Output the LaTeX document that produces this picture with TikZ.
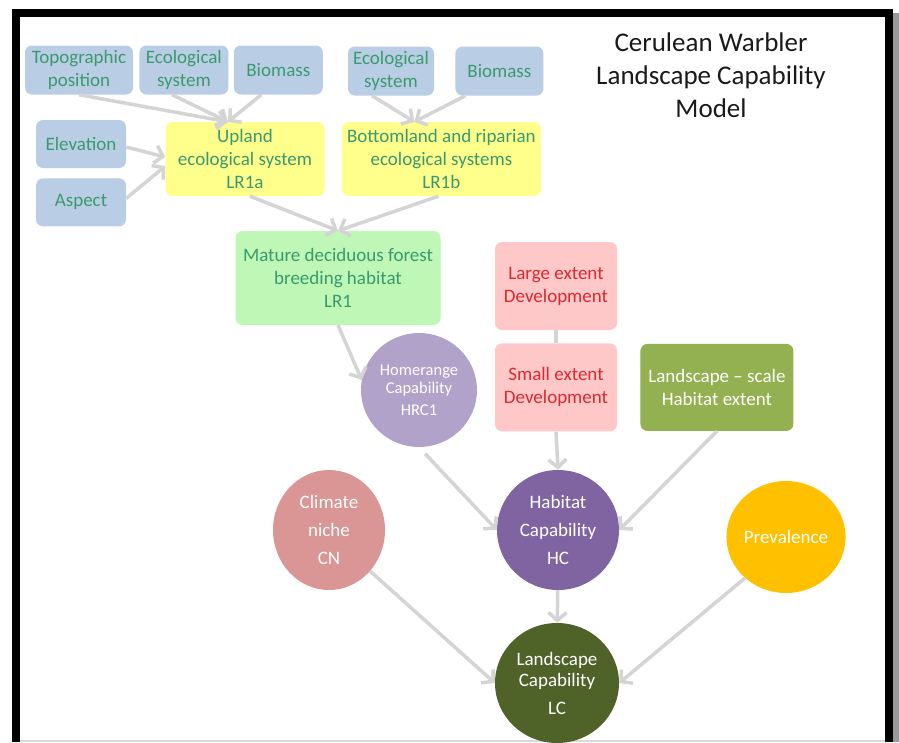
\documentclass[tikz,border=0pt]{standalone}
\usepackage{fontspec}
\setmainfont{Carlito}
\usepackage{tikz}
\usetikzlibrary{arrows.meta}
\usetikzlibrary{positioning}
\usetikzlibrary{shapes.geometric}

\definecolor{inputblue}{HTML}{B9CDE5}
\definecolor{ecoyellow}{HTML}{FFFF8C}
\definecolor{forestgreen}{HTML}{BEF7B6}
\definecolor{labelgreen}{HTML}{3A9A6E}
\definecolor{devpink}{HTML}{FFC8C8}
\definecolor{devred}{HTML}{D92A30}
\definecolor{scaleolive}{HTML}{93B150}
\definecolor{homelilac}{HTML}{B0A2C8}
\definecolor{climrose}{HTML}{D99694}
\definecolor{habpurple}{HTML}{8064A2}
\definecolor{prevgold}{HTML}{FFC000}
\definecolor{lcgreen}{HTML}{4F6228}
\definecolor{linkgrey}{HTML}{D4D4D4}
\definecolor{titlegrey}{HTML}{1A1A1A}

\begin{document}
\begin{tikzpicture}[->,>={Straight Barb[length=8pt,width=18pt]},x=1pt,y=-1pt,node distance=5pt]
\tikzstyle{box}=[rounded corners=7pt,inner sep=0pt,align=center,font=\fontsize{19}{23}\selectfont]
\tikzstyle{input}=[box,fill=inputblue,text=labelgreen,minimum height=49pt]
\tikzstyle{eco}=[box,fill=ecoyellow,text=labelgreen,minimum height=74pt]
\tikzstyle{dev}=[box,fill=devpink,text=devred,minimum width=122pt,minimum height=88pt]
\tikzstyle{capnode}=[ellipse,inner sep=0pt,align=center,text=white,font=\fontsize{19}{28}\selectfont]
\tikzstyle{link}=[draw=linkgrey,line width=3.5pt]

\useasboundingbox (0,0) rectangle (899,742);
\fill[black] (12,9) rectangle (20,742);
\fill[black] (12,9) rectangle (893,17);
\fill[black] (885,9) rectangle (893,742);
\fill[black!40] (893,13) rectangle (899,742);
\fill[black!15] (20,740) rectangle (885,742);

\node[align=center,text=titlegrey,font=\fontsize{27}{33}\selectfont]	(title)	at (711,75)	{Cerulean Warbler\\Landscape Capability\\Model};

\node[input,minimum width=108pt]	(Topo)	at (79,70)			{Topographic\\position};
\node[input,minimum width=89pt]	(Eco1)	[right=6pt of Topo]		{Ecological\\system};
\node[input,minimum width=89pt]	(Bio1)	[right=of Eco1]			{Biomass};
\node[input,minimum width=86pt]	(Eco2)	at (391,71)			{Ecological\\system};
\node[input,minimum width=88pt]	(Bio2)	[right=21pt of Eco2]		{Biomass};
\node[input,minimum width=90pt,minimum height=48pt]	(Elev)	at (81,144)	{Elevation};
\node[input,minimum width=90pt,minimum height=48pt]	(Asp)	[below=10pt of Elev]	{Aspect};
\node[eco,minimum width=159pt]	(Upland)	at (245,159)		{Upland\\ecological system\\LR1a};
\node[eco,minimum width=199pt]	(Bottom)	[right=17pt of Upland]	{Bottomland and riparian\\ecological systems\\LR1b};
\node[box,fill=forestgreen,text=labelgreen,minimum width=205pt,minimum height=94pt]	(LR1)	at (338,278)	{Mature deciduous forest\\breeding habitat\\LR1};
\node[dev]	(Large)	at (556,286)			{Large extent\\Development};
\node[dev]	(Small)	[below=13pt of Large]		{Small extent\\Development};
\node[box,fill=scaleolive,text=white,minimum width=153pt,minimum height=87pt]	(Scale)	[right=23pt of Small]	{Landscape -- scale\\Habitat extent};
\node[capnode,fill=homelilac,minimum width=116pt,minimum height=114pt,font=\fontsize{16.5}{18}\selectfont]	(HR)	at (419,390)	{Homerange\\Capability\\[4pt]HRC1};
\node[capnode,fill=climrose,minimum width=112pt,minimum height=120pt]	(CN)	at (329,530)	{Climate\\niche\\CN};
\node[capnode,fill=habpurple,minimum width=122pt,minimum height=120pt]	(HC)	at (558,530)	{Habitat\\Capability\\HC};
\node[capnode,fill=prevgold,minimum width=110pt,minimum height=112pt]	(Prev)	at (786,537)	{Prevalence};
\node[capnode,fill=lcgreen,minimum width=124pt,minimum height=120pt,font=\fontsize{19}{21}\selectfont]	(LC)	at (557,683)	{Landscape\\Capability\\[7pt]LC};

\path[every edge/.style={link}]	(Topo.south)	edge	([xshift=-17pt]Upland.north)
	([xshift=-12pt]Eco1.south)		edge	([xshift=-17pt]Upland.north)
	([xshift=-17pt]Bio1.south)		edge	([xshift=-17pt]Upland.north)
	([yshift=-3pt]Elev.east)		edge	([yshift=2pt]Upland.west)
	([yshift=4pt]Asp.east)			edge	([yshift=-7pt]Upland.west)
	([xshift=-19pt]Eco2.south)		edge	([xshift=-27pt]Bottom.north)
	([xshift=-34pt]Bio2.south)		edge	([xshift=-27pt]Bottom.north)
	([xshift=5pt]Upland.south)		edge	(LR1.north)
	([xshift=-3pt]Bottom.south)		edge	(LR1.north)
	(LR1.south)				edge	(HR.170)
	(Large)					edge[-]	(Small)
	(HR.south)				edge[shorten <=9pt]	(HC.west)
	(Small.south)				edge	(HC.north)
	(Scale.south)				edge	(HC.east)
	(CN.315)				edge	(LC.west)
	(HC)					edge	(LC)
	(Prev.225)				edge	(LC.east);
\end{tikzpicture}
\end{document}
